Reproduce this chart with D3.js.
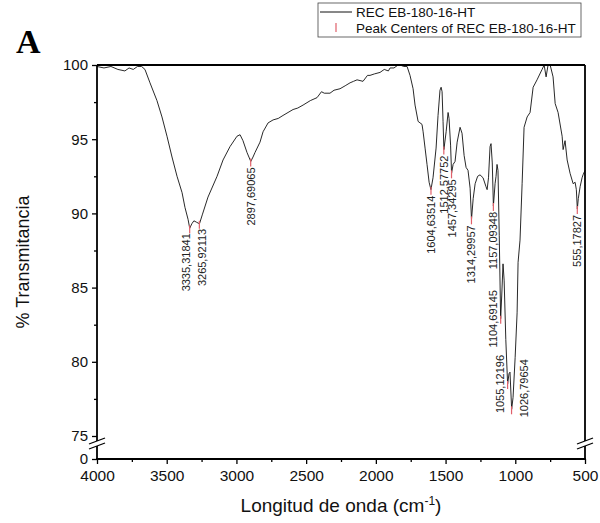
<!DOCTYPE html>
<html>
<head>
<meta charset="utf-8">
<script src="https://cdn.jsdelivr.net/npm/d3@7"></script>
<style>
  body { margin: 0; background: #fff; }
  text { font-family: "Liberation Sans", Arial, sans-serif; }
</style>
</head>
<body>
<div id="chart"></div>
<script>
// dimensions
const width = 600;
const height = 523;

// spectrum
const waveNumber = [4000, 3950, 3900, 3850, 3800, 3770, 3740, 3710, 3680, 3656, 3620, 3570, 3534, 3498, 3462, 3426, 3390, 3369, 3347, 3335,
  3320, 3305, 3285, 3265, 3245, 3204, 3139, 3096, 3046, 2996, 2974, 2953, 2924, 2897, 2881, 2867, 2831, 2809, 2773, 2737,
  2700, 2666, 2630, 2594, 2560, 2522, 2470, 2422, 2390, 2370, 2329, 2300, 2257, 2220, 2185, 2160, 2135, 2092, 2060, 2042,
  2010, 1970, 1940, 1910, 1898, 1870, 1841, 1826, 1800, 1776, 1755, 1733, 1719, 1697, 1669, 1661, 1647, 1633, 1618, 1605,
  1590, 1568, 1554, 1540, 1532, 1525, 1518, 1512, 1496, 1482, 1475, 1464, 1457, 1446, 1432, 1417, 1396, 1382, 1367, 1353,
  1339, 1324, 1314, 1302, 1288, 1270, 1253, 1231, 1210, 1202, 1192, 1181, 1174, 1165, 1157, 1145, 1138, 1131, 1124, 1115,
  1105, 1097, 1088, 1080, 1068, 1055, 1045, 1038, 1026, 1016, 1001, 987, 980, 966, 951, 937, 915, 894, 872, 844,
  808, 793, 779, 765, 750, 729, 714, 693, 664, 657, 643, 628, 607, 585, 571, 562, 555, 548, 535, 521, 514, 500];
const transmittance = [99.9, 99.8, 99.9, 99.7, 99.6, 99.8, 99.7, 99.9, 99.9, 99.7, 98.8, 97.6, 96.5, 95.2, 93.8, 92.5, 91.4, 90.4, 89.6, 89.0,
  89.3, 89.5, 89.4, 89.3, 89.9, 91.1, 92.5, 93.6, 94.5, 95.2, 95.3, 94.9, 94.1, 93.5, 93.8, 94.1, 94.8, 95.5, 96.1, 96.3,
  96.4, 96.6, 96.8, 97.0, 97.1, 97.3, 97.6, 97.8, 98.2, 98.1, 98.1, 98.3, 98.4, 98.6, 98.8, 98.9, 99.0, 98.9, 99.3, 99.3,
  99.4, 99.5, 99.7, 99.6, 99.8, 99.8, 100.0, 100.0, 99.9, 99.9, 99.3, 98.4, 97.3, 96.2, 96.0, 95.5, 94.4, 93.3, 92.1, 91.6,
  92.4, 94.4, 96.6, 98.3, 98.5, 98.2, 96.2, 94.3, 95.5, 96.8, 96.4, 94.6, 92.7, 93.3, 93.5, 94.8, 95.8, 95.4, 93.9, 93.1,
  92.9, 91.7, 89.6, 91.0, 92.0, 92.5, 92.6, 92.4, 91.8, 91.6, 92.4, 94.5, 94.7, 93.4, 90.5, 92.0, 92.5, 93.3, 92.9, 88.5,
  82.9, 84.5, 86.6, 85.5, 81.5, 78.5, 79.2, 79.3, 76.8, 77.6, 80.3, 83.3, 86.7, 88.2, 92.0, 95.8, 96.5, 96.8, 98.5, 99.0,
  99.7, 100.0, 99.2, 100.0, 100.0, 99.2, 97.4, 96.8, 95.2, 94.3, 94.9, 93.6, 92.7, 92.0, 92.1, 91.6, 90.3, 91.0, 91.8, 92.4, 92.6, 92.9];

// peak centers
const peakCenters = [3335.31841, 3265.92113, 2897.69065, 1604.63514, 1512.57752, 1457.34295, 1314.29957, 1157.09348, 1104.69145, 1055.12196, 1026.79654, 555.17827];
const peakValues = [89.0, 89.3, 93.5, 91.6, 94.3, 92.7, 89.6, 90.5, 82.9, 78.5, 76.8, 90.3];
const peakLabels = ["3335,31841", "3265,92113", "2897,69065", "1604,63514", "1512,57752", "1457,34295", "1314,29957", "1157,09348", "1104,69145", "1055,12196", "1026,79654", "555,17827"];
const peakLabelSide = ["belowLeft", "belowRight", "below", "below", "below", "below", "below", "below", "left", "left", "right", "below"];

// axes
const xTicks = [4000, 3500, 3000, 2500, 2000, 1500, 1000, 500];
const xMinorTicks = [3750, 3250, 2750, 2250, 1750, 1250, 750];
const yTicks = [0, 75, 80, 85, 90, 95, 100];
const yMinorTicks = [77.5, 82.5, 87.5, 92.5, 97.5];

const seriesName = "REC EB-180-16-HT";
const peakSeriesName = "Peak Centers of REC EB-180-16-HT";

const plot = { left: 97, right: 585, top: 65, bottom: 459, break75: 436 };

const svg = d3.select("#chart").append("svg")
    .attr("width", width)
    .attr("height", height);

const x = d3.scaleLinear().domain([4000, 500]).range([plot.left, plot.right]);
// eje roto: 0 abajo, luego 75..100
const y = d3.scaleLinear().domain([0, 75, 100]).range([plot.bottom, plot.break75, plot.top]);

const data = waveNumber.map((w, i) => ({ w: w, t: transmittance[i] }));

// --- curva ---
const line = d3.line().x(d => x(d.w)).y(d => y(d.t));
svg.append("path")
    .datum(data)
    .attr("fill", "none")
    .attr("stroke", "#111")
    .attr("stroke-width", 0.9)
    .attr("d", line);

// --- marcadores de picos ---
const peaks = peakCenters.map((c, i) => ({ c: c, v: peakValues[i], label: peakLabels[i], side: peakLabelSide[i] }));

svg.append("g").selectAll("line")
    .data(peaks)
    .join("line")
    .attr("x1", d => x(d.c)).attr("x2", d => x(d.c))
    .attr("y1", d => y(d.v) - 3).attr("y2", d => y(d.v) + 5)
    .attr("stroke", "#e0606a")
    .attr("stroke-width", 1.2);

const place = {
    below:      { dx: 4,  dy: 6,  anchor: "end" },
    belowLeft:  { dx: 0,  dy: 5,  anchor: "end" },
    belowRight: { dx: 7,  dy: 5,  anchor: "end" },
    left:       { dx: -4, dy: 0,  anchor: "middle" },
    right:      { dx: 16, dy: 8,  anchor: "start" }
};

svg.append("g").selectAll("text")
    .data(peaks)
    .join("text")
    .attr("transform", d => {
        const p = place[d.side];
        return `translate(${x(d.c) + p.dx},${y(d.v) + p.dy}) rotate(-90)`;
    })
    .attr("text-anchor", d => place[d.side].anchor)
    .attr("font-size", "11px")
    .attr("fill", "#222")
    .text(d => d.label);

// --- ejes ---
const axisColor = "#000";
const xAxis = svg.append("g")
    .attr("transform", `translate(0,${plot.bottom})`)
    .call(d3.axisBottom(x).tickValues(xTicks).tickSize(5).tickPadding(6).tickFormat(d3.format("d")));
xAxis.select(".domain").remove();
xAxis.selectAll("text").attr("font-size", "15.5px").attr("fill", "#111").style("font-family", "Liberation Sans, Arial");
xAxis.selectAll("line").attr("stroke-width", 1.3);

svg.append("g")
    .attr("transform", `translate(0,${plot.bottom})`)
    .call(d3.axisBottom(x).tickValues(xMinorTicks).tickSize(3).tickFormat(""))
    .call(g => g.select(".domain").remove())
    .selectAll("line").attr("stroke-width", 1.3);

const yAxis = svg.append("g")
    .attr("transform", `translate(${plot.left},0)`)
    .call(d3.axisLeft(y).tickValues(yTicks).tickSize(5).tickPadding(4).tickFormat(d3.format("d")));
yAxis.select(".domain").remove();
yAxis.selectAll("text").attr("font-size", "15px").attr("fill", "#111").style("font-family", "Liberation Sans, Arial");
yAxis.selectAll("line").attr("stroke-width", 1.3);

svg.append("g")
    .attr("transform", `translate(${plot.left},0)`)
    .call(d3.axisLeft(y).tickValues(yMinorTicks).tickSize(3).tickFormat(""))
    .call(g => g.select(".domain").remove())
    .selectAll("line").attr("stroke-width", 1.3);

// marco con cortes
const frame = svg.append("g").attr("stroke", axisColor).attr("stroke-width", 1.8).attr("fill", "none");
const gapTop = plot.break75 + 5;
const gapBottom = plot.break75 + 10;
frame.append("line").attr("x1", plot.left).attr("x2", plot.right).attr("y1", plot.top).attr("y2", plot.top);
frame.append("line").attr("x1", plot.left - 1).attr("x2", plot.right + 1).attr("y1", plot.bottom).attr("y2", plot.bottom);
[plot.left, plot.right].forEach(px => {
    frame.append("line").attr("x1", px).attr("x2", px).attr("y1", plot.top).attr("y2", gapTop);
    frame.append("line").attr("x1", px).attr("x2", px).attr("y1", gapBottom).attr("y2", plot.bottom);
    [gapTop, gapBottom].forEach(gy => {
        frame.append("line")
            .attr("stroke-width", 1.3)
            .attr("x1", px - 8).attr("y1", gy + 3)
            .attr("x2", px + 8).attr("y2", gy - 3);
    });
});

// --- titulos ---
svg.append("text")
    .attr("x", (plot.left + plot.right) / 2)
    .attr("y", 512)
    .attr("text-anchor", "middle")
    .attr("font-size", "19px")
    .attr("fill", "#111")
    .html('Longitud de onda (cm<tspan dy="-7" font-size="12px">-1</tspan><tspan dy="7">)</tspan>');

svg.append("text")
    .attr("transform", `translate(29,${(plot.top + plot.bottom) / 2}) rotate(-90)`)
    .attr("text-anchor", "middle")
    .attr("font-size", "18px")
    .attr("fill", "#111")
    .text("% Transmitancia");

svg.append("text")
    .attr("x", 16)
    .attr("y", 53)
    .style("font-family", "Liberation Serif, Times New Roman, serif")
    .attr("font-weight", "bold")
    .attr("font-size", "34px")
    .text("A");

// --- leyenda ---
const legend = svg.append("g");
legend.append("rect")
    .attr("x", 318).attr("y", 3)
    .attr("width", 263).attr("height", 34)
    .attr("fill", "#fff")
    .attr("stroke", "#444")
    .attr("stroke-width", 0.8);
legend.append("line")
    .attr("x1", 320).attr("x2", 352).attr("y1", 12).attr("y2", 12)
    .attr("stroke", "#111").attr("stroke-width", 1);
legend.append("text").attr("x", 356).attr("y", 17).attr("font-size", "13.5px").attr("fill", "#111").text(seriesName);
legend.append("line")
    .attr("x1", 336).attr("x2", 336).attr("y1", 23).attr("y2", 32)
    .attr("stroke", "#e0606a").attr("stroke-width", 1.2);
legend.append("text").attr("x", 356).attr("y", 33).attr("font-size", "13.5px").attr("fill", "#111").text(peakSeriesName);
</script>
</body>
</html>
